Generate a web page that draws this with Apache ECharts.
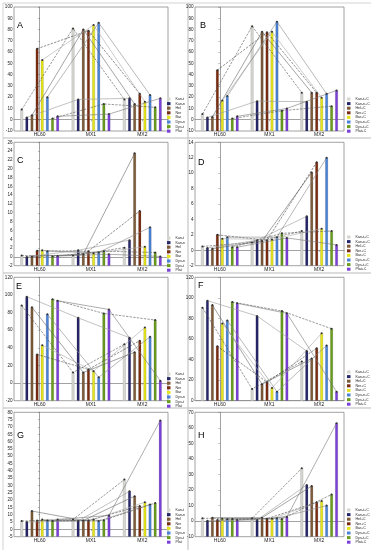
<!DOCTYPE html>
<html><head><meta charset="utf-8">
<script src="https://cdn.jsdelivr.net/npm/echarts/dist/echarts.min.js"></script>
<style>html,body{margin:0;padding:0;background:#fff}#c{width:371px;height:550px}</style>
</head><body><div id="c"></div>
<script>
// ---------- data ----------
const categories = ['HL60', 'MX1', 'MX2'];
const namesPlain = ['Kan-t', 'Kan-n', 'Hel', 'Ner', 'Bar', 'Dys-n', 'Dys-t', 'Plat'];
const namesC = ['Kan-t+C', 'Kan-n+C', 'Hel+C', 'Ner+C', 'Bar+C', 'Dys-n+C', 'Dys-t+C', 'Plat+C'];

// values per category, in series order (Kan-t, Kan-n, Hel, Ner, Bar, Dys-n, Dys-t, Plat)
const A_HL60 = [9, 2, 4, 63, 53, 20, 1, 3];
const A_MX1  = [81, 18, 80, 79, 84, 86, 14, 5];
const A_MX2  = [18, 19, 14, 23, 16, 22, 11, 19];

const B_HL60 = [5, 2, 2.5, 44, 17, 21, 1, 3];
const B_MX1  = [83, 16.5, 78, 77.5, 78, 87, 8, 10];
const B_MX2  = [24, 16, 24, 24, 19.5, 23, 12, 26];

const C_HL60 = [0.3, 0, 0.1, 1.4, 1.5, 1.3, 0.1, 0.2];
const C_MX1  = [0.3, 1.5, 0.6, 1.3, 0.8, 1.0, 1.3, 0.6];
const C_MX2  = [2.1, 3.8, 23.5, 10.4, 2.3, 6.7, 1.0, 0.1];

const D_HL60 = [0.5, 0.3, 0.2, 2.0, 1.5, 1.7, 0.4, 0.4];
const D_MX1  = [1.0, 1.3, 1.2, 1.3, 1.4, 1.7, 2.2, 1.6];
const D_MX2  = [2.5, 4.4, 10.1, 11.4, 2.8, 12.0, 2.5, 0.7];

const E_HL60 = [88, 98, 86, 32.5, 43, 78, 95, 93.5];
const E_MX1  = [12, 74, 12, 15.5, 13.5, 6.5, 79, 83.5];
const E_MX2  = [44, 51.5, 35, 48, 63, 52.5, 71.5, 2.7];

const F_HL60 = [90.5, 97.3, 93, 53, 75, 78, 96, 94.7];
const F_MX1  = [11.4, 82.4, 16, 18, 12.3, 8.8, 87.2, 85];
const F_MX2  = [38, 48.3, 41, 51, 65.5, 53.8, 70, 8.8];

const G_HL60 = [5.7, 5, 12.5, 6, 6.8, 6, 5.7, 6.8];
const G_MX1  = [6.8, 5.7, 6.1, 6.1, 6.8, 5.7, 6.3, 9.5];
const G_MX2  = [34, 26, 22.7, 15.9, 18.6, 17, 18, 74.4];

const H_HL60 = [1.8, 0.3, 2.2, 0.7, 1.6, 1.4, 1.4, 0.7];
const H_MX1  = [1.8, 0.7, 2.2, 1.6, 1.6, 1.8, 1.4, 2.7];
const H_MX2  = [34, 23.3, 22.6, 12.1, 13, 10, 17.2, 63];

// y axis ticks: [min, max, interval]
const axisA = [-10, 100, 10];
const axisB = [-10, 100, 10];
const axisC = [-2, 26, 2];
const axisD = [-2, 14, 2];
const axisE = [-20, 120, 20];
const axisF = [0, 120, 20];
const axisG = [-5, 80, 5];
const axisH = [-10, 70, 10];

const panels = [
  { letter: 'A', names: namesPlain, vals: [A_HL60, A_MX1, A_MX2], axis: axisA },
  { letter: 'B', names: namesC,     vals: [B_HL60, B_MX1, B_MX2], axis: axisB },
  { letter: 'C', names: namesPlain, vals: [C_HL60, C_MX1, C_MX2], axis: axisC },
  { letter: 'D', names: namesC,     vals: [D_HL60, D_MX1, D_MX2], axis: axisD },
  { letter: 'E', names: namesPlain, vals: [E_HL60, E_MX1, E_MX2], axis: axisE },
  { letter: 'F', names: namesC,     vals: [F_HL60, F_MX1, F_MX2], axis: axisF },
  { letter: 'G', names: namesPlain, vals: [G_HL60, G_MX1, G_MX2], axis: axisG },
  { letter: 'H', names: namesC,     vals: [H_HL60, H_MX1, H_MX2], axis: axisH }
];

// ---------- styling / layout ----------
const barColors = ['#d6d6d0', '#26266a', '#7c5a3a', '#7a2c10', '#e4e41c', '#4a82d6', '#6a9c1e', '#7a40d8'];
const lineStyles = [
  { color: '#555', type: 'dashed' }, { color: '#999', type: 'solid' },
  { color: '#666', type: 'solid' },  { color: '#444', type: 'dashed' },
  { color: '#aaa', type: 'solid' },  { color: '#888', type: 'solid' },
  { color: '#555', type: 'dashed' }, { color: '#777', type: 'solid' }
];
const colX = [14, 195], colW = [154, 149];
const rowTop = [7, 142.3, 277.3, 412.3], rowH = [124, 123.4, 123.4, 124.4];
const legendPos = [[167, 97], [347, 97], [167, 236], [347, 235], [167, 372], [347, 370], [167, 508], [347, 508]];
const letterPos = [[17, 21], [200, 21], [17, 156], [198, 158], [16, 282], [198, 281], [17, 431], [198, 431]];
const FONT = 'Liberation Sans, Arial, sans-serif';
const OFF = 0.1; // bar spacing in category units

const option = { animation: false, backgroundColor: '#fff', grid: [], xAxis: [], yAxis: [], series: [], legend: [], graphic: [] };

panels.forEach((p, pi) => {
  const col = pi % 2, row = Math.floor(pi / 2);
  option.grid.push({ left: colX[col], top: rowTop[row], width: colW[col], height: rowH[row],
    show: true, borderColor: '#8a8a8a', borderWidth: 0.8, backgroundColor: '#fff' });
  option.xAxis.push({ type: 'category', gridIndex: pi, data: categories,
    axisLine: { lineStyle: { color: '#8a8a8a', width: 0.8 } },
    axisTick: { show: true, length: 1.5, alignWithLabel: true, lineStyle: { color: '#666', width: 0.5 } },
    axisLabel: { fontSize: 5, color: '#222', margin: 1.5, fontFamily: FONT } });
  option.xAxis.push({ type: 'value', gridIndex: pi, min: -0.5, max: 2.5, show: false });
  const [mn, mx, iv] = p.axis;
  option.yAxis.push({ type: 'value', gridIndex: pi, min: mn, max: mx, interval: iv,
    axisLine: { show: true, lineStyle: { color: '#8a8a8a', width: 0.8 } },
    axisTick: { show: true, length: 1.5, lineStyle: { color: '#666', width: 0.5 } },
    splitLine: { show: false },
    axisLabel: { fontSize: 4.6, color: '#222', margin: 1.5, fontFamily: FONT } });

  for (let i = 0; i < 8; i++) {
    const data = categories.map((c, k) => [k + (i - 3.5) * OFF, p.vals[k][i]]);
    option.series.push({
      type: 'custom', name: p.names[i], xAxisIndex: pi * 2 + 1, yAxisIndex: pi, z: 2,
      itemStyle: { color: barColors[i] }, clip: true,
      encode: { x: 0, y: 1 },
      renderItem: (params, api) => {
        const x = api.value(0), v = api.value(1);
        const t = api.coord([x, v]);
        const b = api.coord([x, mn]);
        const w = 2.4;
        return { type: 'rect', shape: { x: t[0] - w / 2, y: t[1], width: w, height: b[1] - t[1] },
          style: { fill: barColors[i], stroke: i === 0 ? '#aaa' : 'rgba(0,0,0,0.3)', lineWidth: 0.4 } };
      },
      data: data
    });
    option.series.push({
      type: 'line', name: p.letter + ' ' + p.names[i] + ' trend', xAxisIndex: pi * 2 + 1, yAxisIndex: pi, z: 3,
      data: data, symbol: 'circle', symbolSize: 2, showSymbol: true,
      itemStyle: { color: '#333' },
      lineStyle: { width: 0.6, color: lineStyles[i].color, type: lineStyles[i].type, dashOffset: 0 },
      emphasis: { disabled: true }
    });
  }
  option.legend.push({ orient: 'vertical', left: legendPos[pi][0], top: legendPos[pi][1], padding: 0,
    itemWidth: 3.5, itemHeight: 3, itemGap: 0.6, icon: 'rect', selectedMode: false,
    textStyle: { fontSize: 3.6, color: '#222', fontFamily: FONT }, data: p.names });
  option.graphic.push({ type: 'text', left: letterPos[pi][0], top: letterPos[pi][1], z: 10,
    style: { text: p.letter, fontSize: 9, fill: '#000', fontFamily: FONT } });
  // panel frame
  const fx = col === 0 ? 0.5 : 185.5, fy = [0.5, 135.5, 270.5, 405.5][row];
  const fh = row === 3 ? 144 : 135;
  option.graphic.push({ type: 'rect', left: fx, top: fy, z: -10, silent: true,
    shape: { x: 0, y: 0, width: 185, height: fh }, style: { fill: 'none', stroke: '#c8c8c8', lineWidth: 0.8 } });
});

const chart = echarts.init(document.getElementById('c'), null, { renderer: 'canvas' });
chart.setOption(option);
</script>
</body></html>
